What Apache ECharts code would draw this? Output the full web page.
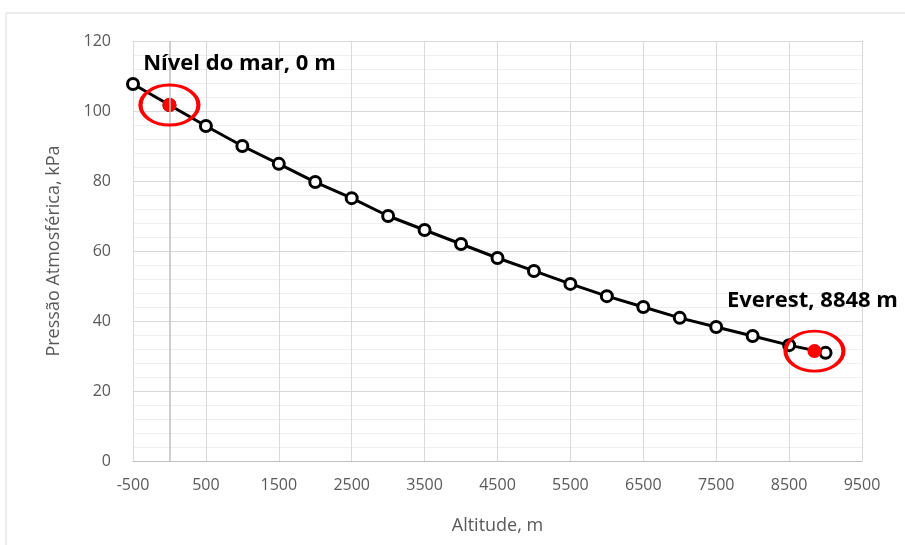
<!DOCTYPE html>
<html><head><meta charset="utf-8">
<script src="https://cdn.jsdelivr.net/npm/echarts@6/dist/echarts.min.js"></script>
<style>html,body{margin:0;padding:0;background:#fff}#c{width:905px;height:545px}</style>
</head><body><div id="c"></div>
<script>
const altitudes = [-500,0,500,1000,1500,2000,2500,3000,3500,4000,4500,5000,5500,6000,6500,7000,7500,8000,8500,9000];
const pressures = [107.7,101.7,95.7,90.0,84.9,79.7,75.1,70.0,66.0,62.0,58.0,54.3,50.6,47.1,44.0,40.9,38.3,35.7,33.1,30.9];
const seaLevel = [0, 101.7];
const everest = [8848, 31.4];
const seaLabel = 'Nível do mar, 0 m';
const everestLabel = 'Everest, 8848 m';
const xTitle = 'Altitude, m';
const yTitle = 'Pressão Atmosférica, kPa';

const chart = echarts.init(document.getElementById('c'), null, {renderer:'canvas'});
const font = '"Open Sans", "Liberation Sans", sans-serif';
chart.setOption({
  animation:false,
  backgroundColor:'#fff',
  graphic:[{type:'rect', shape:{x:6,y:13,width:920,height:560}, style:{fill:'none', stroke:'#d9d9d9', lineWidth:1}, silent:true, z:-1}],
  grid:{left:133, right:43, top:41, bottom:84},
  xAxis:{type:'value', min:-500, max:9500, interval:1000,
    axisLine:{show:true, lineStyle:{color:'#bfbfbf', width:1}},
    axisTick:{show:false},
    axisLabel:{color:'#595959', fontSize:16, fontFamily:font, margin:16, formatter:v=>String(v)},
    splitLine:{show:true, lineStyle:{color:'#d9d9d9', width:1}},
    name:xTitle, nameLocation:'middle', nameGap:56,
    nameTextStyle:{color:'#595959', fontSize:18, fontFamily:font}
  },
  yAxis:{type:'value', min:0, max:120, interval:20,
    axisLine:{show:false}, axisTick:{show:false},
    axisLabel:{color:'#595959', fontSize:16, fontFamily:font, margin:22},
    splitLine:{show:true, lineStyle:{color:'#d9d9d9', width:1}},
    minorTick:{show:false, splitNumber:5},
    minorSplitLine:{show:true, lineStyle:{color:'#efefef', width:1}},
    name:yTitle, nameLocation:'middle', nameGap:70,
    nameTextStyle:{color:'#595959', fontSize:18, fontFamily:font}
  },
  series:[
    {type:'line', data:altitudes.map((a,i)=>[a,pressures[i]]),
      symbol:'circle', symbolSize:11, showAllSymbol:true,
      lineStyle:{color:'#000', width:3},
      itemStyle:{color:'#fff', borderColor:'#000', borderWidth:3},
      markLine:{silent:true, symbol:'none', label:{show:false},
        lineStyle:{color:'#bfbfbf', width:1.5, type:'solid'}, data:[{xAxis:0}]},
      z:3},
    {type:'scatter', data:[seaLevel, everest], symbol:'circle', symbolSize:14,
      itemStyle:{color:'#ff0000', opacity:1}, z:4},
    {type:'scatter', data:[
        {value:seaLevel, label:{show:true, formatter:seaLabel, position:'inside', offset:[70,-41]}},
        {value:everest, label:{show:true, formatter:everestLabel, position:'inside', offset:[-2,-50]}}
      ],
      symbol:'circle', symbolSize:[58,40],
      itemStyle:{color:'rgba(0,0,0,0)', borderColor:'#ff0000', borderWidth:3.5, opacity:1},
      label:{color:'#000', fontWeight:'bold', fontSize:22, fontFamily:font},
      z:5}
  ]
});
</script></body></html>
